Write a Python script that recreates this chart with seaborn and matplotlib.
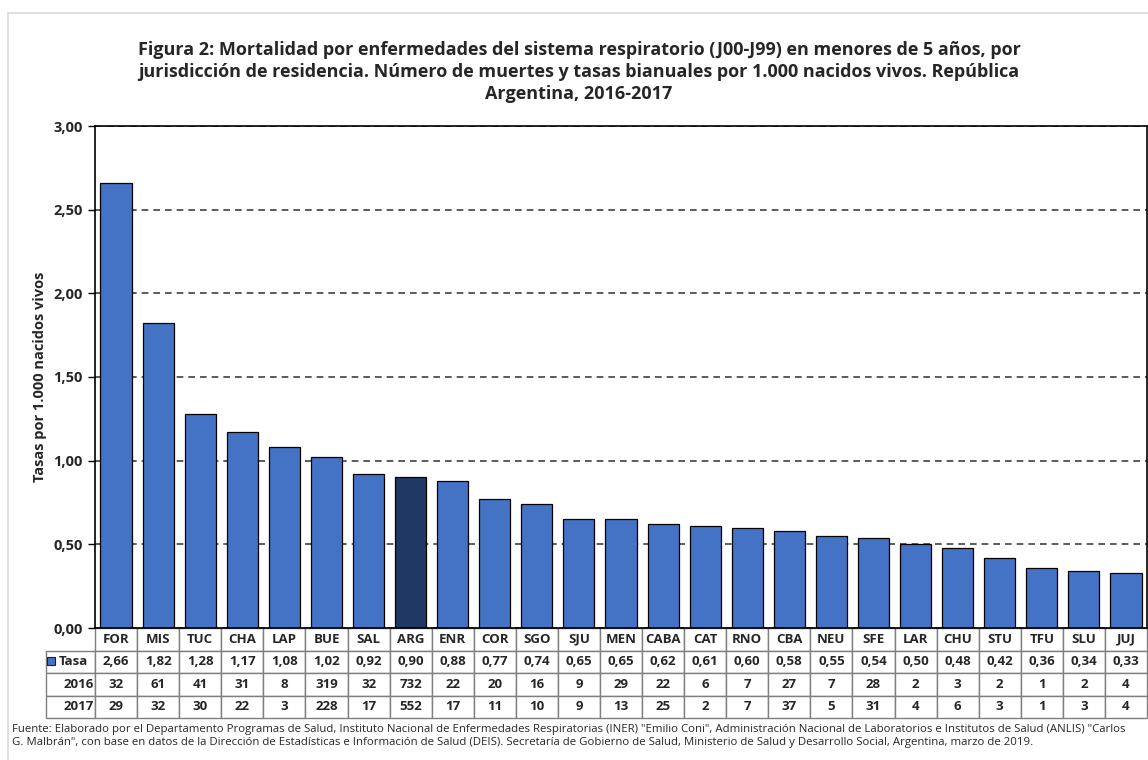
import matplotlib
matplotlib.use("Agg")
import matplotlib.pyplot as plt
from matplotlib.patches import Rectangle
import seaborn as sns

# data
jurisdicciones = ["FOR", "MIS", "TUC", "CHA", "LAP", "BUE", "SAL", "ARG", "ENR", "COR",
                  "SGO", "SJU", "MEN", "CABA", "CAT", "RNO", "CBA", "NEU", "SFE", "LAR",
                  "CHU", "STU", "TFU", "SLU", "JUJ"]
tasa = [2.66, 1.82, 1.28, 1.17, 1.08, 1.02, 0.92, 0.90, 0.88, 0.77,
        0.74, 0.65, 0.65, 0.62, 0.61, 0.60, 0.58, 0.55, 0.54, 0.50,
        0.48, 0.42, 0.36, 0.34, 0.33]
muertes_2016 = [32, 61, 41, 31, 8, 319, 32, 732, 22, 20, 16, 9, 29, 22, 6, 7, 27, 7, 28, 2, 3, 2, 1, 2, 4]
muertes_2017 = [29, 32, 30, 22, 3, 228, 17, 552, 17, 11, 10, 9, 13, 25, 2, 7, 37, 5, 31, 4, 6, 3, 1, 3, 4]
y_ticks = [0, 0.5, 1.0, 1.5, 2.0, 2.5, 3.0]

azul = "#4472C4"
azul_osc = "#1F3864"
colores = [azul_osc if j == "ARG" else azul for j in jurisdicciones]

sns.set_style("white")
plt.rcParams["font.family"] = ["Open Sans", "DejaVu Sans"]

fig = plt.figure(figsize=(11.48, 7.6), dpi=100)
ax = fig.add_axes([95 / 1148, 1 - 628 / 760, 1052 / 1148, 502 / 760])

sns.barplot(x=jurisdicciones, y=tasa, hue=jurisdicciones, palette=colores, legend=False,
            width=0.74, edgecolor="black", linewidth=0.9, saturation=1, ax=ax)

ax.set_ylim(0, 3)
ax.set_xlim(-0.5, len(jurisdicciones) - 0.5)
ax.set_yticks(y_ticks)
ax.set_yticklabels([f"{v:.2f}".replace(".", ",") for v in y_ticks], fontsize=10.5, fontweight="bold")
ax.set_xticks([])
ax.set_xlabel("")
ax.set_ylabel("")
ax.tick_params(axis="y", left=True, length=5, width=1, color="black", pad=4)
ax.yaxis.grid(True, linestyle=(0, (4, 3)), color="#404040", linewidth=1.2)
ax.set_axisbelow(True)
for s in ax.spines.values():
    s.set_color("black")
    s.set_linewidth(1.2)

# data table under the bars
filas = [["Tasa"] + [f"{v:.2f}".replace(".", ",") for v in tasa],
         ["2016"] + [str(v) for v in muertes_2016],
         ["2017"] + [str(v) for v in muertes_2017]]
lab_w = 49 / 1052
tab = ax.table(cellText=filas, colLabels=[""] + jurisdicciones,
               colWidths=[49] + [42] * len(jurisdicciones),
               cellLoc="center", bbox=[-lab_w, -90 / 502, 1 + lab_w, 90 / 502])
tab.auto_set_font_size(False)
for (r, c), cell in tab.get_celld().items():
    cell.set_edgecolor("#7f7f7f")
    cell.set_linewidth(1.0)
    cell.get_text().set_fontsize(9.5)
    cell.get_text().set_fontweight("bold")
    if c == 0:
        cell.get_text().set_ha("right")
        cell.PAD = 0.03
    if r == 1 and c == 0:
        cell.get_text().set_ha("left")
        cell.PAD = 0.26
    if r == 0 and c == 0:
        cell.visible_edges = ""
ax.add_patch(Rectangle((-48 / 1052, -36.5 / 502), 8 / 1052, 8 / 502,
                       transform=ax.transAxes, facecolor=azul, edgecolor="#1f1f1f",
                       linewidth=0.8, clip_on=False))

fig.text(579 / 1148, 1 - 72 / 760,
         "Figura 2: Mortalidad por enfermedades del sistema respiratorio (J00-J99) en menores de 5 años, por\n"
         "jurisdicción de residencia. Número de muertes y tasas bianuales por 1.000 nacidos vivos. República\n"
         "Argentina, 2016-2017",
         ha="center", va="center", fontsize=13, fontweight="bold", linespacing=1.28)
fig.text(40 / 1148, 1 - 377 / 760, "Tasas por 1.000 nacidos vivos", rotation=90,
         ha="center", va="center", fontsize=10.5, fontweight="bold")
fig.text(12 / 1148, 1 - 724 / 760,
         "Fuente: Elaborado por el Departamento Programas de Salud, Instituto Nacional de Enfermedades Respiratorias (INER) \"Emilio Coni\", "
         "Administración Nacional de Laboratorios e Institutos de Salud (ANLIS) \"Carlos\n"
         "G. Malbrán\", con base en datos de la Dirección de Estadísticas e Información de Salud (DEIS). "
         "Secretaría de Gobierno de Salud, Ministerio de Salud y Desarrollo Social, Argentina, marzo de 2019.",
         ha="left", va="top", fontsize=8.2, linespacing=1.2)

fig.add_artist(Rectangle((8 / 1148, -0.1), 1.2, 1.1 - 13 / 760, transform=fig.transFigure,
                         fill=False, edgecolor="#d9d9d9", linewidth=1.2))

fig.savefig("out.png", dpi=100)
